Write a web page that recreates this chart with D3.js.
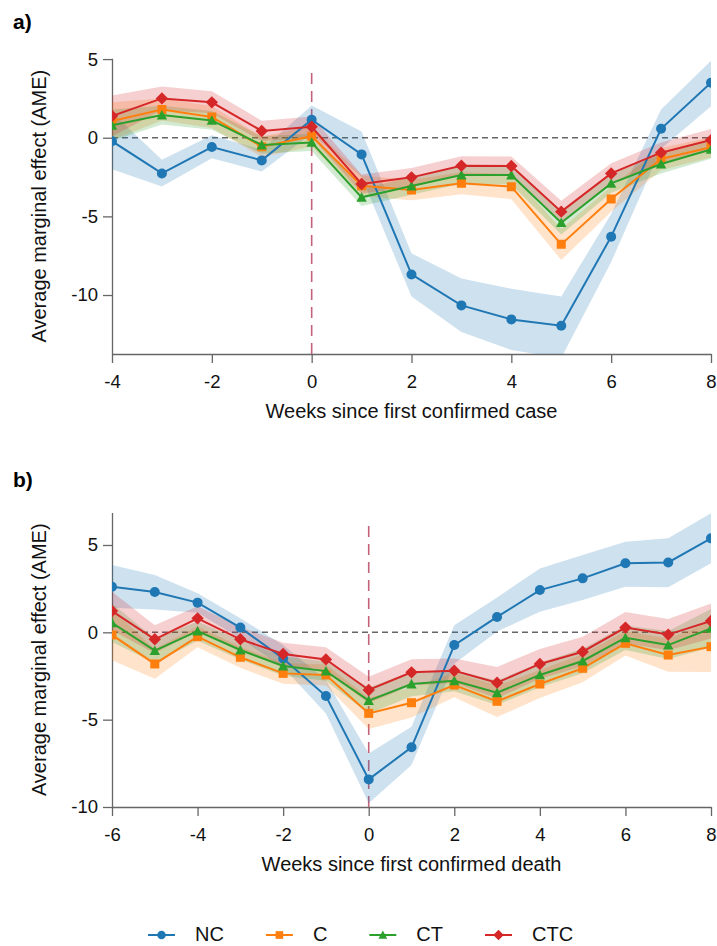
<!DOCTYPE html>
<html>
<head>
<meta charset="utf-8">
<script src="https://cdn.jsdelivr.net/npm/d3@7"></script>
<style>
  body { margin: 0; background: #fff; }
  text { font-family: "Liberation Sans", Arial, sans-serif; }
</style>
</head>
<body>
<div id="chart"></div>
<script>
// series names and colours
const seriesNames = ["NC", "C", "CT", "CTC"];
const seriesColors = ["#1f77b4", "#ff7f0e", "#2ca02c", "#d62728"];
const seriesMarkers = ["circle", "square", "triangle", "diamond"];

// panel a: weeks since first confirmed case
const weeksA = [-4, -3, -2, -1, 0, 1, 2, 3, 4, 5, 6, 7, 8];
const ticksA = [-4, -2, 0, 2, 4, 6, 8];
const yTicksA = [-10, -5, 0, 5];
const ncA = [-0.22, -2.27, -0.59, -1.44, 1.14, -1.06, -8.69, -10.66, -11.55, -11.95, -6.29, 0.57, 3.50];
const ncLoA = [-2.0, -3.1, -1.3, -2.15, 0.25, -2.5, -10.1, -12.35, -13.5, -14.0, -7.9, -0.7, 2.0];
const ncHiA = [1.6, -1.4, 0.15, -0.75, 2.05, 0.4, -7.35, -8.95, -9.6, -10.1, -4.85, 1.8, 4.9];
const cA = [1.06, 1.80, 1.32, -0.57, 0.10, -3.05, -3.33, -2.90, -3.11, -6.78, -3.90, -1.35, -0.61];
const cLoA = [-0.14, 1.10, 0.62, -1.22, -0.55, -3.70, -3.98, -3.60, -3.91, -7.78, -4.70, -2.05, -1.26];
const cHiA = [2.26, 2.50, 2.02, 0.08, 0.75, -2.40, -2.68, -2.20, -2.31, -5.78, -3.10, -0.65, 0.04];
const ctA = [0.79, 1.44, 1.10, -0.46, -0.30, -3.79, -3.07, -2.37, -2.37, -5.40, -2.90, -1.67, -0.74];
const ctLoA = [-0.21, 0.84, 0.50, -1.01, -0.85, -4.34, -3.62, -2.92, -2.97, -6.15, -3.50, -2.27, -1.34];
const ctHiA = [1.79, 2.04, 1.70, 0.09, 0.25, -3.24, -2.52, -1.82, -1.77, -4.65, -2.30, -1.07, -0.14];
const ctcA = [1.38, 2.50, 2.25, 0.43, 0.70, -2.94, -2.52, -1.78, -1.80, -4.70, -2.27, -0.95, -0.15];
const ctcLoA = [0.08, 1.75, 1.55, -0.22, 0.05, -3.54, -3.12, -2.38, -2.40, -5.40, -2.92, -1.60, -0.85];
const ctcHiA = [2.68, 3.25, 2.95, 1.08, 1.35, -2.34, -1.92, -1.18, -1.20, -4.00, -1.62, -0.30, 0.55];

// panel b: weeks since first confirmed death
const weeksB = [-6, -5, -4, -3, -2, -1, 0, 1, 2, 3, 4, 5, 6, 7, 8];
const ticksB = [-6, -4, -2, 0, 2, 4, 6, 8];
const yTicksB = [-10, -5, 0, 5];
const ncB = [2.61, 2.31, 1.70, 0.27, -1.50, -3.65, -8.42, -6.58, -0.73, 0.88, 2.42, 3.09, 3.95, 4.00, 5.38];
const ncLoB = [1.40, 1.30, 1.12, -0.35, -2.0, -4.64, -9.79, -7.60, -1.80, 0.05, 1.18, 1.85, 2.61, 2.58, 3.95];
const ncHiB = [3.85, 3.28, 2.23, 0.80, -0.73, -2.73, -6.93, -5.40, 0.40, 2.00, 3.66, 4.42, 5.19, 5.38, 6.81];
const cB = [-0.15, -1.81, -0.25, -1.43, -2.35, -2.44, -4.64, -4.03, -3.02, -3.95, -2.96, -2.06, -0.63, -1.30, -0.82];
const cLoB = [-1.60, -2.66, -0.85, -2.03, -2.95, -3.04, -5.54, -4.88, -3.72, -4.85, -3.76, -2.86, -1.33, -2.25, -2.27];
const cHiB = [1.30, -0.96, 0.35, -0.83, -1.75, -1.84, -3.74, -3.18, -2.32, -3.05, -2.16, -1.26, 0.07, -0.35, 0.63];
const ctB = [0.55, -1.05, 0.07, -1.01, -1.93, -2.22, -3.91, -2.96, -2.77, -3.46, -2.44, -1.64, -0.31, -0.73, 0.23];
const ctLoB = [-0.55, -1.75, -0.48, -1.56, -2.48, -2.77, -4.66, -3.66, -3.37, -4.16, -3.14, -2.34, -1.01, -1.53, -0.87];
const ctHiB = [1.65, -0.35, 0.62, -0.46, -1.38, -1.67, -3.16, -2.26, -2.17, -2.76, -1.74, -0.94, 0.39, 0.07, 1.33];
const ctcB = [1.22, -0.40, 0.80, -0.40, -1.24, -1.55, -3.30, -2.29, -2.20, -2.88, -1.81, -1.11, 0.27, -0.13, 0.65];
const ctcLoB = [0.12, -1.20, 0.10, -1.10, -1.89, -2.25, -4.05, -3.04, -2.90, -3.78, -2.66, -1.96, -0.63, -1.03, -0.35];
const ctcHiB = [2.32, 0.40, 1.50, 0.30, -0.59, -0.85, -2.55, -1.54, -1.50, -1.98, -0.96, -0.26, 1.17, 0.77, 1.65];

const width = 717, height = 946;
const left = 112, right = 711;

const svg = d3.select("#chart")
  .append("svg")
    .attr("width", width)
    .attr("height", height);

// marker shapes, roughly like matplotlib o s ^ D
function markerPath(type, s) {
  if (type === "circle") {
    const r = s * 0.5;
    return `M${r},0A${r},${r} 0 1,1 ${-r},0A${r},${r} 0 1,1 ${r},0Z`;
  }
  if (type === "square") {
    const h = s * 0.45;
    return `M${-h},${-h}L${h},${-h}L${h},${h}L${-h},${h}Z`;
  }
  if (type === "triangle") {
    const h = s * 0.52;
    return `M0,${-h}L${h},${h * 0.85}L${-h},${h * 0.85}Z`;
  }
  const h = s * 0.62;
  return `M0,${-h}L${h},0L0,${h}L${-h},0Z`;
}

const drawPanel = (cfg) => {
  const x = d3.scaleLinear().domain(cfg.xDomain).range([left, right]);
  const y = d3.scaleLinear().domain(cfg.yDomain).range([cfg.bottom, cfg.top]);
  const g = svg.append("g");

  // clip for bands that run past the axis
  g.append("clipPath").attr("id", cfg.id + "-clip")
    .append("rect")
      .attr("x", left).attr("y", cfg.top - 10)
      .attr("width", right - left).attr("height", cfg.bottom - cfg.top + 10);

  // axes
  const xAxis = g.append("g")
    .attr("transform", `translate(0,${cfg.bottom})`)
    .call(d3.axisBottom(x).tickValues(cfg.xTicks).tickFormat(d3.format("d"))
      .tickSize(9).tickSizeOuter(0).tickPadding(12));
  const yAxis = g.append("g")
    .attr("transform", `translate(${left},0)`)
    .call(d3.axisLeft(y).tickValues(cfg.yTicks).tickFormat(d3.format("d"))
      .tickSize(9).tickSizeOuter(0).tickPadding(5));
  [xAxis, yAxis].forEach(a => {
    a.select(".domain").attr("stroke", "#666").attr("stroke-width", 1.3);
    a.selectAll(".tick line").attr("stroke", "#666").attr("stroke-width", 1.3);
    a.selectAll(".tick text").attr("fill", "#111").style("font-size", "18.5px")
      .text(d => String(d).replace("\u2212", "-"));
  });

  // reference lines
  g.append("line")
    .attr("x1", left).attr("x2", right)
    .attr("y1", y(0)).attr("y2", y(0))
    .attr("stroke", "#666").attr("stroke-width", 1.5)
    .attr("stroke-dasharray", "6,4");
  g.append("line")
    .attr("x1", x(0)).attr("x2", x(0))
    .attr("y1", cfg.bottom).attr("y2", y(cfg.vTop))
    .attr("stroke", "#c4627a").attr("stroke-width", 1.6)
    .attr("stroke-dasharray", "11,7");

  const plot = g.append("g").attr("clip-path", `url(#${cfg.id}-clip)`);

  // confidence bands underneath everything
  cfg.series.forEach((s, i) => {
    const rows = cfg.weeks.map((w, j) => ({w: w, lo: s.lo[j], hi: s.hi[j]}));
    plot.append("path")
      .datum(rows)
      .attr("d", d3.area().x(d => x(d.w)).y0(d => y(d.lo)).y1(d => y(d.hi)))
      .attr("fill", seriesColors[i])
      .attr("fill-opacity", 0.22);
  });

  // lines and markers
  cfg.series.forEach((s, i) => {
    const rows = cfg.weeks.map((w, j) => ({w: w, v: s.v[j]}));
    plot.append("path")
      .datum(rows)
      .attr("d", d3.line().x(d => x(d.w)).y(d => y(d.v)))
      .attr("fill", "none")
      .attr("stroke", seriesColors[i])
      .attr("stroke-width", 2);
    plot.selectAll(".m" + i)
      .data(rows)
      .join("path")
        .attr("d", markerPath(seriesMarkers[i], 10))
        .attr("transform", d => `translate(${x(d.w)},${y(d.v)})`)
        .attr("fill", seriesColors[i]);
  });

  // titles
  g.append("text")
    .attr("x", (left + right) / 2).attr("y", cfg.bottom + 64)
    .attr("text-anchor", "middle")
    .style("font-size", "20px").attr("fill", "#111")
    .text(cfg.xTitle);
  g.append("text")
    .attr("transform", `translate(46,${(cfg.bottom + cfg.top) / 2}) rotate(-90)`)
    .attr("text-anchor", "middle")
    .style("font-size", "20px").attr("fill", "#111")
    .text("Average marginal effect (AME)");
  g.append("text")
    .attr("x", 13).attr("y", cfg.labelY)
    .style("font-size", "21px").style("font-weight", "bold").attr("fill", "#000")
    .text(cfg.label);
};

drawPanel({
  id: "pa", label: "a)", labelY: 29,
  xDomain: [-4, 8], yDomain: [-13.75, 5.05], top: 58.3, bottom: 354, vTop: 4.5,
  xTicks: ticksA, yTicks: yTicksA, weeks: weeksA,
  xTitle: "Weeks since first confirmed case",
  series: [
    {v: ncA, lo: ncLoA, hi: ncHiA},
    {v: cA, lo: cLoA, hi: cHiA},
    {v: ctA, lo: ctLoA, hi: ctHiA},
    {v: ctcA, lo: ctcLoA, hi: ctcHiA}
  ]
});

drawPanel({
  id: "pb", label: "b)", labelY: 487,
  xDomain: [-6, 8], yDomain: [-10, 6.86], top: 512.5, bottom: 807, vTop: 6.4,
  xTicks: ticksB, yTicks: yTicksB, weeks: weeksB,
  xTitle: "Weeks since first confirmed death",
  series: [
    {v: ncB, lo: ncLoB, hi: ncHiB},
    {v: cB, lo: cLoB, hi: cHiB},
    {v: ctB, lo: ctLoB, hi: ctHiB},
    {v: ctcB, lo: ctcLoB, hi: ctcHiB}
  ]
});

// legend along the bottom
const legend = svg.append("g").attr("transform", "translate(0,935)");
let lx = 148;
seriesNames.forEach((name, i) => {
  const item = legend.append("g").attr("transform", `translate(${lx},0)`);
  item.append("line")
    .attr("x1", 0).attr("x2", 27)
    .attr("stroke", seriesColors[i]).attr("stroke-width", 2);
  item.append("path")
    .attr("d", markerPath(seriesMarkers[i], 8.5))
    .attr("transform", "translate(13.5,0)")
    .attr("fill", seriesColors[i]);
  const t = item.append("text")
    .attr("x", 47).attr("y", 6)
    .style("font-size", "20px").attr("fill", "#111")
    .text(name);
  lx += 47 + t.node().getComputedTextLength() + 42;
});
</script>
</body>
</html>
